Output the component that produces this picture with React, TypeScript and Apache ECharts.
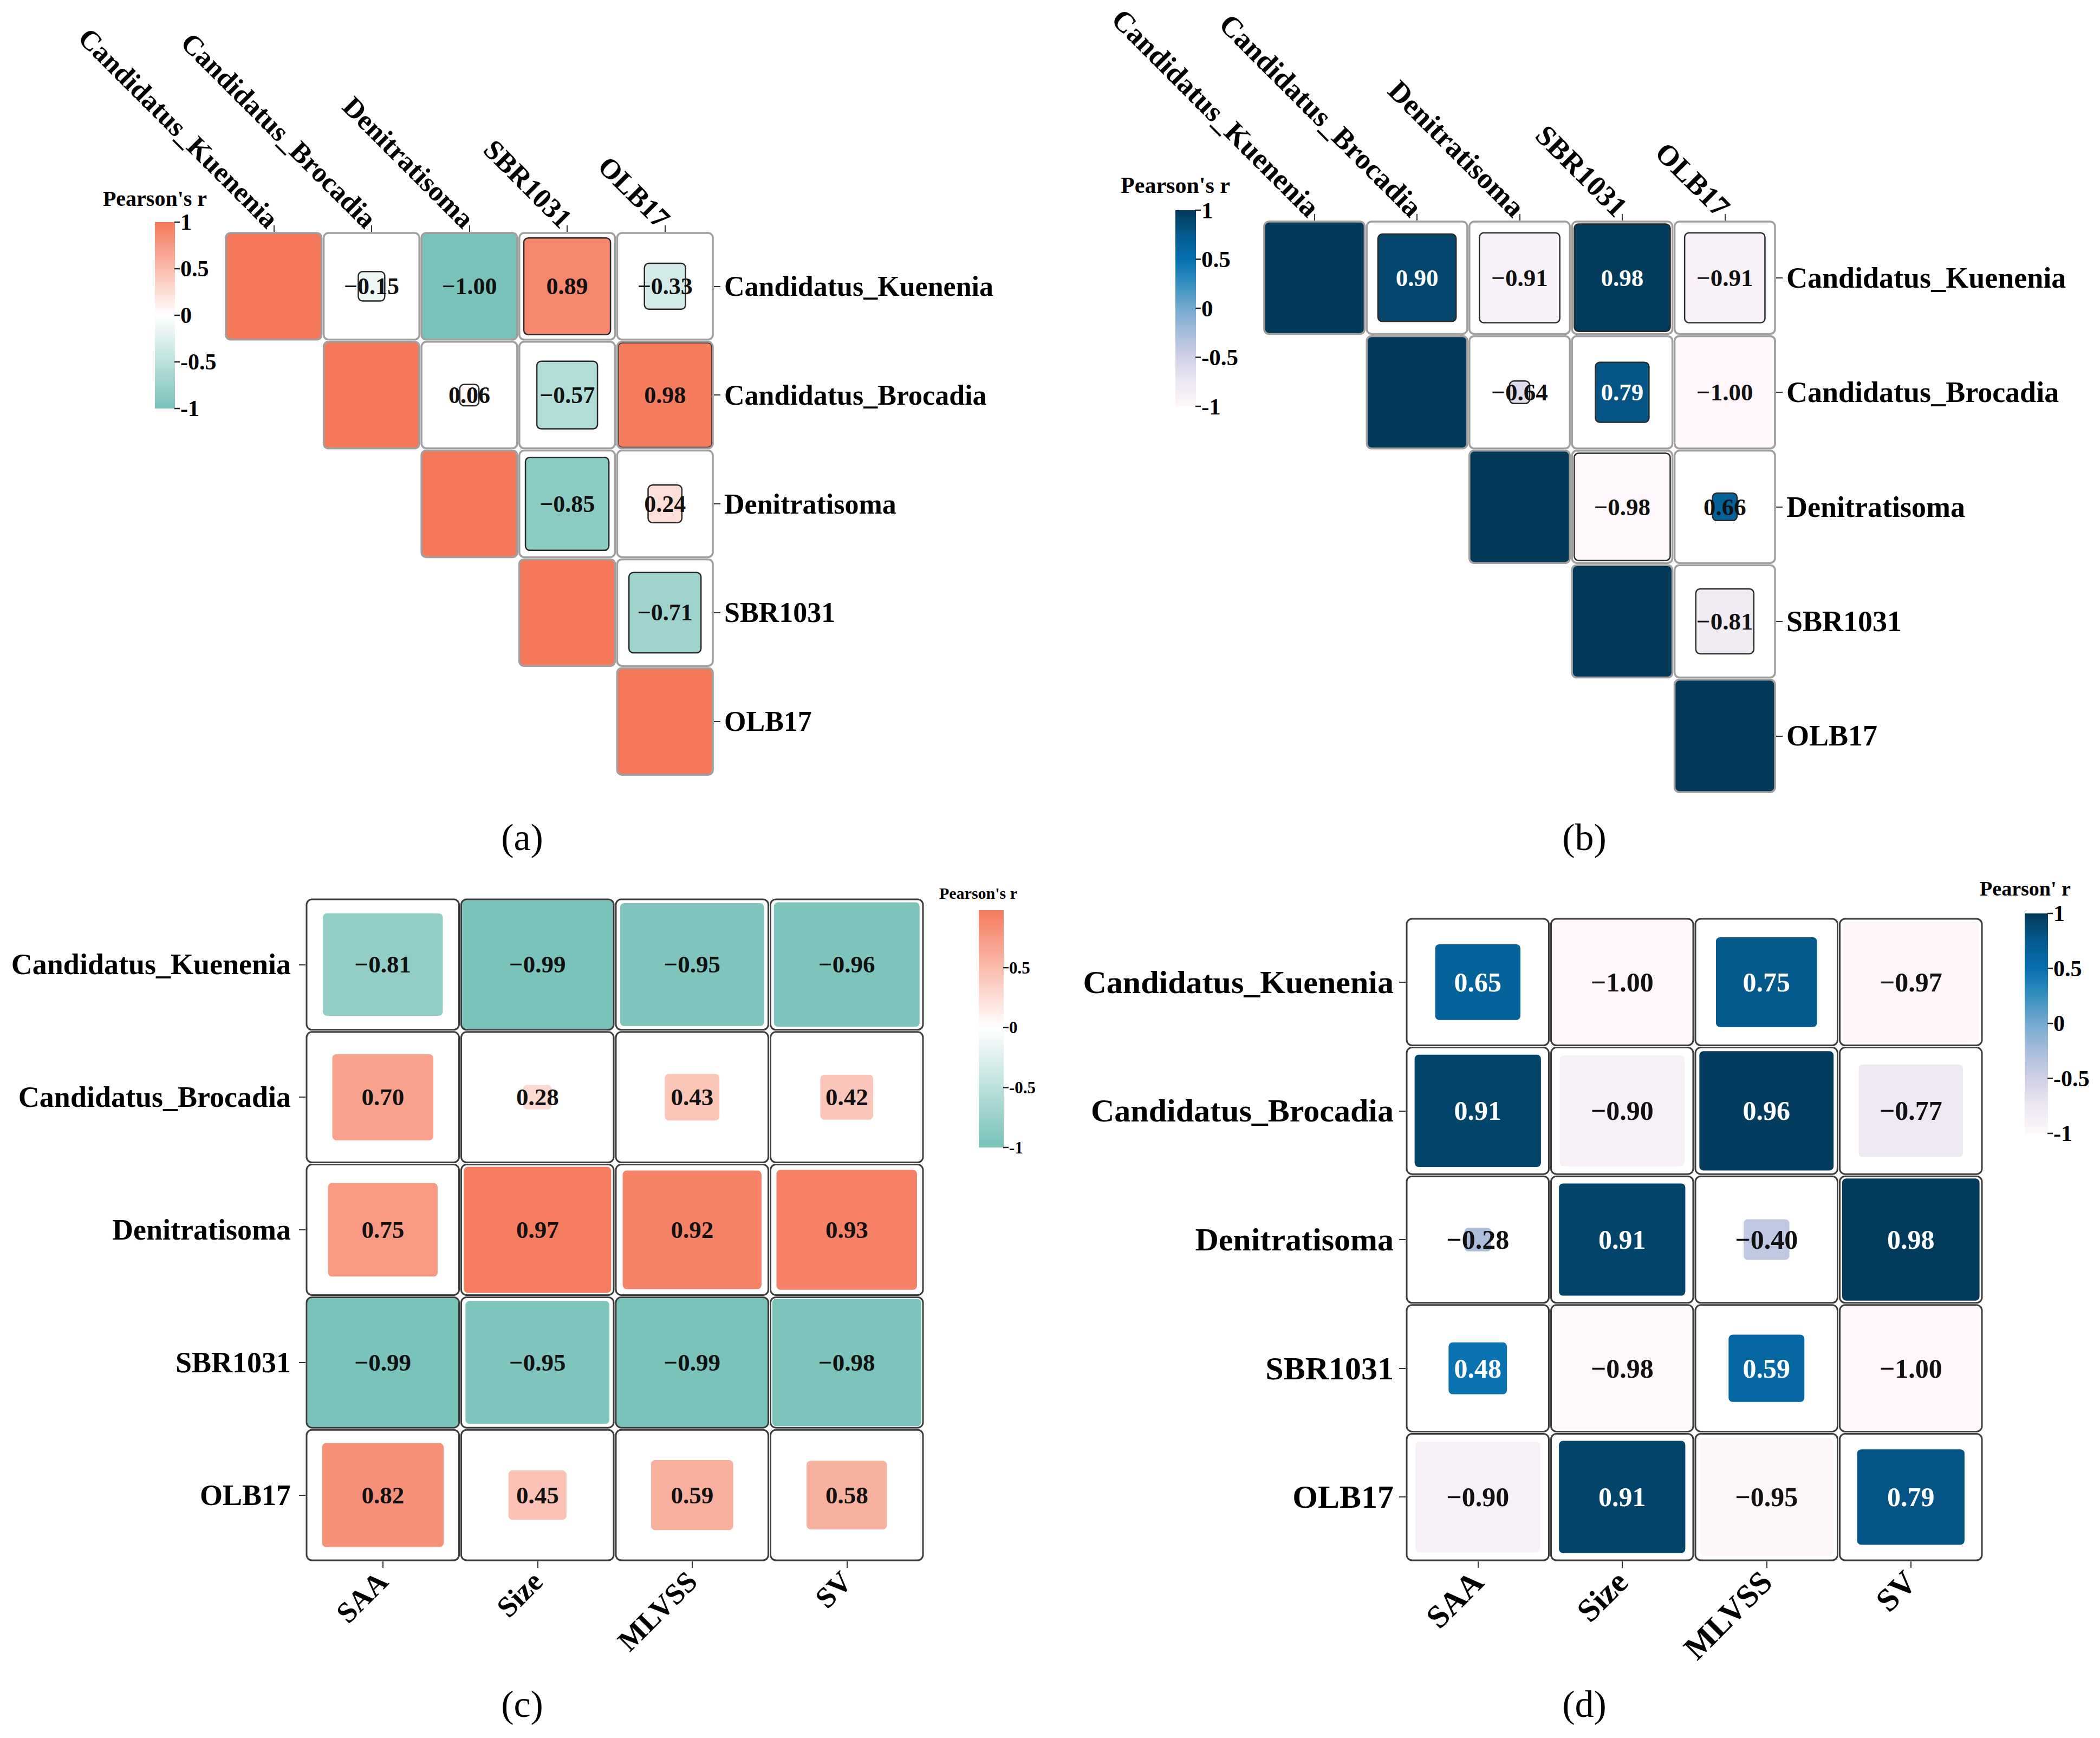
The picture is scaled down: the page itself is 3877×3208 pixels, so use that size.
import React, { useEffect, useRef } from 'react';
import * as echarts from 'echarts';

// ---------- data ----------
const taxa = ['Candidatus_Kuenenia', 'Candidatus_Brocadia', 'Denitratisoma', 'SBR1031', 'OLB17'];
const factors = ['SAA', 'Size', 'MLVSS', 'SV'];

// (a) taxa vs taxa, upper triangle (null = not drawn)
const corrA: (number | null)[][] = [
  [1, -0.15, -1.0, 0.89, -0.33],
  [null, 1, 0.06, -0.57, 0.98],
  [null, null, 1, -0.85, 0.24],
  [null, null, null, 1, -0.71],
  [null, null, null, null, 1],
];
// (b) taxa vs taxa, upper triangle
const corrB: (number | null)[][] = [
  [1, 0.9, -0.91, 0.98, -0.91],
  [null, 1, -0.64, 0.79, -1.0],
  [null, null, 1, -0.98, 0.66],
  [null, null, null, 1, -0.81],
  [null, null, null, null, 1],
];
// (c) taxa (rows) vs factors (cols)
const corrC: number[][] = [
  [-0.81, -0.99, -0.95, -0.96],
  [0.7, 0.28, 0.43, 0.42],
  [0.75, 0.97, 0.92, 0.93],
  [-0.99, -0.95, -0.99, -0.98],
  [0.82, 0.45, 0.59, 0.58],
];
// (d) taxa (rows) vs factors (cols)
const corrD: number[][] = [
  [0.65, -1.0, 0.75, -0.97],
  [0.91, -0.9, 0.96, -0.77],
  [-0.28, 0.91, -0.4, 0.98],
  [0.48, -0.98, 0.59, -1.0],
  [-0.9, 0.91, -0.95, 0.79],
];
const legendTicksFull = [1, 0.5, 0, -0.5, -1];
const legendTicksC = [0.5, 0, -0.5, -1];
const legendRangeC = [-1, 0.98];

// ---------- colour scales ----------
const coralScale: [number, string][] = [
  [-1, '#78C2BA'],
  [0, '#FFFFFF'],
  [1, '#F5785A'],
];
const pubuColors = ['#fff7fb', '#ece7f2', '#d0d1e6', '#a6bddb', '#74a9cf', '#3690c0', '#0570b0', '#045a8d', '#023858'];
const pubuScale: [number, string][] = pubuColors.map((c, i) => [-1 + i * 0.25, c]);

function hexToRgb(h: string) {
  const n = parseInt(h.slice(1), 16);
  return [(n >> 16) & 255, (n >> 8) & 255, n & 255];
}
function colorAt(scale: [number, string][], v: number) {
  if (v <= scale[0][0]) return scale[0][1];
  if (v >= scale[scale.length - 1][0]) return scale[scale.length - 1][1];
  for (let k = 0; k < scale.length - 1; k++) {
    const [v0, c0] = scale[k];
    const [v1, c1] = scale[k + 1];
    if (v >= v0 && v <= v1) {
      const t = (v - v0) / (v1 - v0);
      const a = hexToRgb(c0);
      const b = hexToRgb(c1);
      const m = a.map((x, i) => Math.round(x + (b[i] - x) * t));
      return `rgb(${m[0]},${m[1]},${m[2]})`;
    }
  }
  return scale[0][1];
}
function luminance(c: string) {
  let rgb: number[];
  if (c.startsWith('#')) rgb = hexToRgb(c);
  else rgb = c.replace(/[^\d,]/g, '').split(',').map(Number);
  return (0.299 * rgb[0] + 0.587 * rgb[1] + 0.114 * rgb[2]) / 255;
}

const FONT = '"Liberation Serif", "Times New Roman", serif';

type Panel = {
  rows: string[];
  cols: string[];
  data: (number | null)[][];
  tri: boolean;
  scale: [number, string][];
  grid: { left: number; top: number; width: number; height: number };
  xPos: 'top' | 'bottom';
  xRot: number;
  xMargin: number;
  yPos: 'left' | 'right';
  yMargin: number;
  axisFont: number;
  cellFont: number;
  bgStroke: string;
  bgLw: number;
  innerStroke: string;
  innerLw: number;
  bgRadius: number;
  innerRadius: number;
  cb: { left: number; top: number; width: number; height: number; min: number; max: number; ticks: number[]; font: number };
  title: { text: string; x: number; y: number; font: number };
  letter: { text: string; x: number; y: number };
};

const panels: Panel[] = [
  {
    rows: taxa, cols: taxa, data: corrA, tri: true, scale: coralScale,
    grid: { left: 415, top: 428, width: 903, height: 1004 },
    xPos: 'top', xRot: 45, xMargin: 16, yPos: 'right', yMargin: 19,
    axisFont: 52, cellFont: 44,
    bgStroke: '#a0a0a0', bgLw: 3.5, innerStroke: '#2a2a2a', innerLw: 2.5, bgRadius: 9, innerRadius: 8,
    cb: { left: 286, top: 410, width: 37, height: 344, min: -1, max: 1, ticks: legendTicksFull, font: 42 },
    title: { text: "Pearson's r", x: 286, y: 366, font: 40 },
    letter: { text: '(a)', x: 964, y: 1545 },
  },
  {
    rows: taxa, cols: taxa, data: corrB, tri: true, scale: pubuScale,
    grid: { left: 2332, top: 407, width: 947, height: 1057 },
    xPos: 'top', xRot: 45, xMargin: 16, yPos: 'right', yMargin: 19,
    axisFont: 54, cellFont: 45,
    bgStroke: '#a0a0a0', bgLw: 3.5, innerStroke: '#2a2a2a', innerLw: 2.5, bgRadius: 9, innerRadius: 8,
    cb: { left: 2170, top: 388, width: 38, height: 362, min: -1, max: 1, ticks: legendTicksFull, font: 43 },
    title: { text: "Pearson's r", x: 2170, y: 342, font: 42 },
    letter: { text: '(b)', x: 2925, y: 1545 },
  },
  {
    rows: taxa, cols: factors, data: corrC, tri: false, scale: coralScale,
    grid: { left: 564, top: 1658, width: 1142, height: 1224 },
    xPos: 'bottom', xRot: 45, xMargin: 28, yPos: 'left', yMargin: 27,
    axisFont: 54, cellFont: 45,
    bgStroke: '#3c3c3c', bgLw: 3, innerStroke: '#ffffff', innerLw: 3, bgRadius: 10, innerRadius: 9,
    cb: { left: 1807, top: 1680, width: 46, height: 438, min: legendRangeC[0], max: legendRangeC[1], ticks: legendTicksC, font: 31 },
    title: { text: "Pearson's r", x: 1806, y: 1648, font: 30 },
    letter: { text: '(c)', x: 964, y: 3145 },
  },
  {
    rows: taxa, cols: factors, data: corrD, tri: false, scale: pubuScale,
    grid: { left: 2595, top: 1694, width: 1066, height: 1188 },
    xPos: 'bottom', xRot: 45, xMargin: 28, yPos: 'left', yMargin: 22,
    axisFont: 60, cellFont: 50,
    bgStroke: '#3c3c3c', bgLw: 3, innerStroke: '#ffffff', innerLw: 3, bgRadius: 10, innerRadius: 9,
    cb: { left: 3738, top: 1686, width: 43, height: 406, min: -1, max: 1, ticks: legendTicksFull, font: 42 },
    title: { text: "Pearson' r", x: 3739, y: 1640, font: 38 },
    letter: { text: '(d)', x: 2925, y: 3145 },
  },
];

function fmt(r: number) {
  return (r < 0 ? '\u2212' : '') + Math.abs(r).toFixed(2);
}

function makeCellRenderer(p: Panel) {
  const abs: number[] = [];
  p.data.forEach((row) => row.forEach((v) => { if (v !== null) abs.push(Math.abs(v)); }));
  const rmin = Math.min(...abs);
  const rmax = Math.max(...abs);
  return (params: any, api: any) => {
    const j = api.value(0);
    const i = api.value(1);
    const r = api.value(2);
    const c = api.coord([j, i]);
    const sz = api.size([1, 1]);
    const pad = 2;
    const w = sz[0] - 2 * pad;
    const h = sz[1] - 2 * pad;
    const x0 = c[0] - w / 2;
    const y0 = c[1] - h / 2;
    const s = 0.2 + (0.8 * (Math.abs(r) - rmin)) / (rmax - rmin);
    const iw = w * s;
    const ih = h * s;
    const fill = colorAt(p.scale, r);
    const isDiag = p.tri && i === j;
    const children: any[] = [
      { type: 'rect', shape: { x: x0, y: y0, width: w, height: h, r: p.bgRadius }, style: { fill: '#ffffff' } },
      {
        type: 'rect',
        shape: { x: c[0] - iw / 2, y: c[1] - ih / 2, width: iw, height: ih, r: p.innerRadius },
        style: { fill, stroke: p.innerStroke, lineWidth: p.innerLw },
      },
      {
        type: 'rect',
        shape: { x: x0, y: y0, width: w, height: h, r: p.bgRadius },
        style: { fill: 'none', stroke: p.bgStroke, lineWidth: p.bgLw },
      },
    ];
    if (!isDiag) {
      const label = fmt(r);
      const textW = p.cellFont * 0.5 * label.length;
      const white = luminance(fill) < 0.45 && iw > textW * 1.05;
      children.push({
        type: 'text',
        x: c[0],
        y: c[1],
        style: {
          text: label,
          align: 'center',
          verticalAlign: 'middle',
          textAlign: 'center',
          textVerticalAlign: 'middle',
          fontSize: p.cellFont,
          fontWeight: 'bold',
          fontFamily: FONT,
          fill: white ? '#ffffff' : '#111111',
        },
      });
    }
    return { type: 'group', children };
  };
}

function makeBarRenderer(p: Panel) {
  return (params: any, api: any) => {
    const top = api.coord([0, p.cb.max]);
    const bot = api.coord([0, p.cb.min]);
    const bw = api.size([1, 0])[0];
    const x = top[0] - bw / 2;
    const stops: { offset: number; color: string }[] = [];
    const n = 40;
    for (let k = 0; k <= n; k++) {
      const v = p.cb.max - ((p.cb.max - p.cb.min) * k) / n;
      stops.push({ offset: k / n, color: colorAt(p.scale, v) });
    }
    const children: any[] = [
      {
        type: 'rect',
        shape: { x, y: top[1], width: bw, height: bot[1] - top[1] },
        style: { fill: new echarts.graphic.LinearGradient(0, 0, 0, 1, stops) },
      },
    ];
    p.cb.ticks.forEach((t) => {
      const q = api.coord([0, t]);
      children.push({
        type: 'line',
        shape: { x1: x + bw - 1, y1: q[1], x2: x + bw + 9, y2: q[1] },
        style: { stroke: '#222', lineWidth: 2.5 },
      });
    });
    return { type: 'group', children };
  };
}

function buildOption() {
  const grid: any[] = [];
  const xAxis: any[] = [];
  const yAxis: any[] = [];
  const series: any[] = [];
  const graphic: any[] = [];
  const axisLabelBase = { fontWeight: 'bold', fontFamily: FONT, color: '#000' };

  panels.forEach((p, idx) => {
    grid.push({ ...p.grid });
    xAxis.push({
      gridIndex: idx,
      type: 'category',
      data: p.cols,
      position: p.xPos,
      axisLine: { show: false },
      axisTick: { show: true, alignWithLabel: true, length: 12, lineStyle: { color: '#333', width: 2 } },
      axisLabel: { ...axisLabelBase, fontSize: p.axisFont, rotate: p.xRot, margin: p.xMargin, interval: 0 },
      splitLine: { show: false },
    });
    yAxis.push({
      gridIndex: idx,
      type: 'category',
      data: p.rows,
      inverse: true,
      position: p.yPos,
      axisLine: { show: false },
      axisTick: { show: true, alignWithLabel: true, length: 12, lineStyle: { color: '#333', width: 2 } },
      axisLabel: { ...axisLabelBase, fontSize: p.axisFont, margin: p.yMargin, interval: 0 },
      splitLine: { show: false },
    });
    const data: number[][] = [];
    p.data.forEach((row, i) => row.forEach((v, j) => { if (v !== null) data.push([j, i, v]); }));
    series.push({
      type: 'custom',
      xAxisIndex: idx,
      yAxisIndex: idx,
      data,
      renderItem: makeCellRenderer(p),
      silent: true,
    });
  });

  panels.forEach((p, k) => {
    const idx = panels.length + k;
    grid.push({ left: p.cb.left, top: p.cb.top, width: p.cb.width, height: p.cb.height });
    xAxis.push({ gridIndex: idx, type: 'category', data: ['bar'], show: false });
    yAxis.push({
      gridIndex: idx,
      type: 'value',
      min: p.cb.min,
      max: p.cb.max,
      interval: 0.5,
      position: 'right',
      axisLine: { show: false },
      axisTick: { show: false },
      splitLine: { show: false },
      axisLabel: {
        ...axisLabelBase,
        fontSize: p.cb.font,
        margin: 10,
        formatter: (v: number) => (p.cb.ticks.some((t) => Math.abs(t - v) < 1e-9) ? String(Math.round(v * 10) / 10) : ''),
      },
    });
    series.push({
      type: 'custom',
      xAxisIndex: idx,
      yAxisIndex: idx,
      data: [[0, 0]],
      renderItem: makeBarRenderer(p),
      silent: true,
    });
    graphic.push({
      type: 'text',
      x: p.title.x,
      y: p.title.y,
      style: {
        text: p.title.text,
        align: 'center',
        verticalAlign: 'middle',
        textAlign: 'center',
        textVerticalAlign: 'middle',
        fontSize: p.title.font,
        fontWeight: 'bold',
        fontFamily: FONT,
        fill: '#000',
      },
    });
    graphic.push({
      type: 'text',
      x: p.letter.x,
      y: p.letter.y,
      style: {
        text: p.letter.text,
        align: 'center',
        verticalAlign: 'middle',
        textAlign: 'center',
        textVerticalAlign: 'middle',
        fontSize: 70,
        fontFamily: FONT,
        fill: '#000',
      },
    });
  });

  return {
    animation: false,
    backgroundColor: '#ffffff',
    textStyle: { fontFamily: FONT },
    grid,
    xAxis,
    yAxis,
    series,
    graphic,
  };
}

export default function App() {
  const ref = useRef<HTMLDivElement>(null);
  useEffect(() => {
    if (!ref.current) return;
    const chart = echarts.init(ref.current, null, { renderer: 'svg' });
    chart.setOption(buildOption() as any);
    return () => chart.dispose();
  }, []);
  return (
    <div
      ref={ref}
      style={{ position: 'absolute', left: 0, top: 0, width: '3877px', height: '3208px', background: '#fff' }}
    />
  );
}
